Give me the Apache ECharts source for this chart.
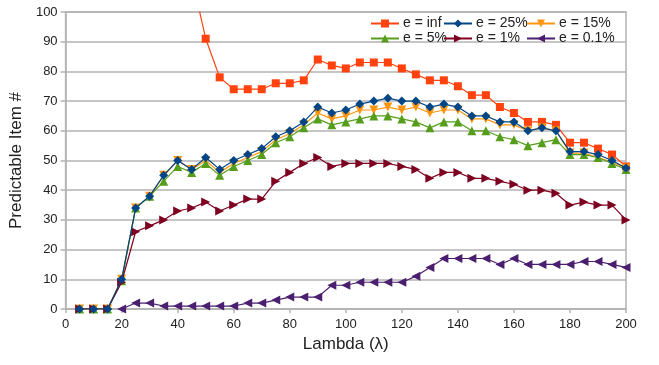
<!DOCTYPE html>
<html><head><meta charset="utf-8">
<script src="https://cdn.jsdelivr.net/npm/echarts@6/dist/echarts.min.js"></script>
<style>html,body{margin:0;padding:0;background:#fff}#c{width:659px;height:365px}</style>
</head><body><div id="c"></div>
<script>
const lambdas = [5,10,15,20,25,30,35,40,45,50,55,60,65,70,75,80,85,90,95,100,105,110,115,120,125,130,135,140,145,150,155,160,165,170,175,180,185,190,195,200];
const eInf = [null,null,null,null,null,null,null,null,112,91,78,74,74,74,76,76,77,84,82,81,83,83,83,81,79,77,77,75,72,72,68,66,63,63,62,56,56,54,52,48];
const e25 = [0,0,0,10,34,38,45,50,47,51,47,50,52,54,58,60,63,68,66,67,69,70,71,70,70,68,69,68,65,65,63,63,60,61,60,53,53,52,50,47.5];
const e15 = [0,0,0,10,34,38,45,50,47,50,46,49,51,53,57,59,62,66,64,65,67,67,68,67,68,66,67,67,64,64,62,62,60,61,60,52.5,52.5,51,49.5,47.5];
const e5 = [0,0,0,9.5,34,38,43,48,46,49,45,48,50,52,56,58,61,64,62,63,64,65,65,64,63,61,63,63,60,60,58,57,55,56,57,52,52,51,49,47];
const e1 = [0,0,0,9,26,28,30,33,34,36,33,35,37,37,43,46,49,51,48,49,49,49,49,48,47,44,46,46,44,44,43,42,40,40,39,35,36,35,35,30];
const e01 = [null,null,null,0,2,2,1,1,1,1,1,1,2,2,3,4,4,4,8,8,9,9,9,9,11,14,17,17,17,17,15,17,15,15,15,15,16,16,15,14];
const names = ['e = inf','e = 25%','e = 15%','e = 5%','e = 1%','e = 0.1%'];

const FONT = '"Liberation Sans", Arial, sans-serif';
const zip = a => lambdas.map((x,i)=>[x,a[i]]);
function mk(name, data, color, symbol, rot, size, z){
  return {name, type:'line', data:zip(data), color, symbol, symbolRotate:rot, symbolSize:size,
    z, lineStyle:{width:1.2,color}, itemStyle:{color}, connectNulls:false, clip:true, animation:false};
}
const series = [
  mk(names[0], eInf, '#ff420e', 'rect', 0, 8, 2),
  mk(names[2], e15, '#ff950e', 'triangle', 180, 9, 3),
  mk(names[3], e5, '#579d1c', 'triangle', 0, 9, 4),
  mk(names[4], e1, '#7e0021', 'triangle', -90, 9, 5),
  mk(names[5], e01, '#4b1f6f', 'triangle', 90, 9, 5),
  mk(names[1], e25, '#004586', 'diamond', 0, 9, 6)
];
const lg = (left, data) => ({left, top:16, orient:'vertical', itemGap:0, itemWidth:28, itemHeight:10,
  data, textStyle:{fontFamily:FONT, fontSize:14, color:'#222', padding:[0,0,0,-1], lineHeight:15}, padding:0});
const chart = echarts.init(document.getElementById('c'), null, {renderer:'canvas'});
chart.setOption({
  backgroundColor:'#fff',
  animation:false,
  grid:{left:61, right:33, top:12, bottom:56, show:true, borderColor:'#b3b3b3', borderWidth:1.5},
  legend:[lg(370,[names[0],names[3]]), lg(443,[names[1],names[4]]), lg(526,[names[2],names[5]])],
  xAxis:{type:'value', min:0, max:200, interval:20, name:'Lambda (λ)', nameLocation:'middle', nameGap:27,
    nameTextStyle:{fontFamily:FONT, fontSize:17, color:'#222'},
    axisLine:{lineStyle:{color:'#b3b3b3', width:1.5}}, axisTick:{show:true, length:4, lineStyle:{color:'#b3b3b3', width:1.5}},
    axisLabel:{fontFamily:FONT, fontSize:13, color:'#222', margin:9}, splitLine:{show:false}},
  yAxis:{type:'value', min:0, max:100, interval:10, name:'Predictable Item #', nameLocation:'middle', nameGap:32,
    nameTextStyle:{fontFamily:FONT, fontSize:17, color:'#222'},
    axisLine:{show:true, lineStyle:{color:'#b3b3b3', width:1.5}}, axisTick:{show:true, length:5, lineStyle:{color:'#b3b3b3', width:1.5}},
    axisLabel:{fontFamily:FONT, fontSize:13, color:'#222', margin:8},
    splitLine:{lineStyle:{color:'#b3b3b3', width:1.5}}},
  series
});
</script></body></html>
